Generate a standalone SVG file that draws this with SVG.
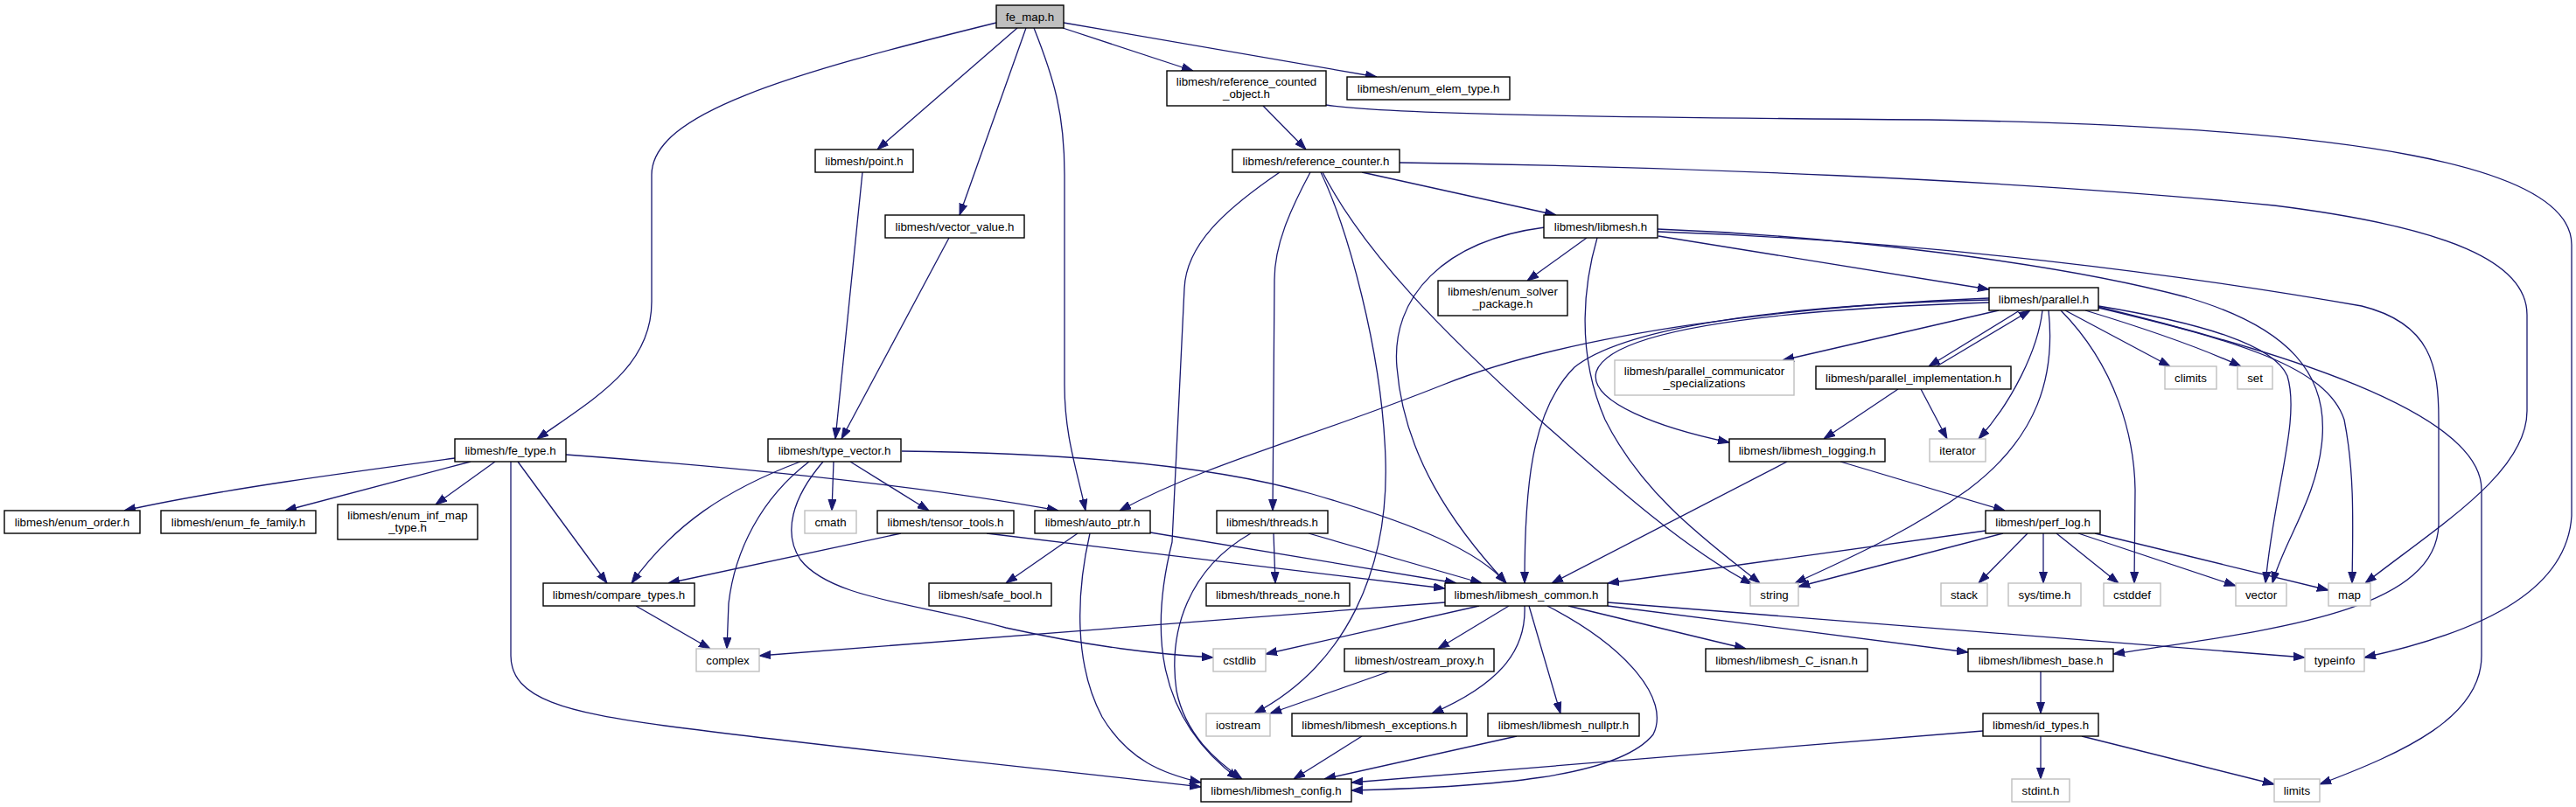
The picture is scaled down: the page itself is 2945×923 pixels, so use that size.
<svg xmlns="http://www.w3.org/2000/svg" width="2945" height="923" viewBox="0 0 2945 923">
<defs>
<marker id="a" markerUnits="userSpaceOnUse" markerWidth="13" markerHeight="10" viewBox="0 0 13 10" refX="13" refY="5" orient="auto">
<path d="M0,0.5 L13,5 L0,9.5 z" fill="#191970" stroke="#191970" stroke-width="1"/>
</marker>
</defs>
<style>
.e path{fill:none;stroke:#191970;stroke-width:1.3;marker-end:url(#a)}
.n rect{fill:#fff;stroke:#000;stroke-width:1.4}
.x rect{fill:#fff;stroke:#bfbfbf;stroke-width:1.4}
.r rect{fill:#bfbfbf;stroke:#000;stroke-width:1.4}
text{font-family:"Liberation Sans",Arial,Helvetica,sans-serif;font-size:13.3px;text-anchor:middle;fill:#000}
</style>
<rect width="2945" height="923" fill="#fff"/>
<g id="edges" class="e">
<path d="M1139,26 C900,85 745,130 745,200 L745,345 C745,420 680,455 614,502"/>
<path d="M1163,32 L1003,171"/>
<path d="M1173,32 L1097,246"/>
<path d="M1182,32 C1205,90 1217,130 1217,200 L1217,440 C1217,500 1232,540 1241,584"/>
<path d="M1215,32 L1364,81"/>
<path d="M1216,26 L1574,88"/>
<path d="M1444,121 L1493,171"/>
<path d="M1516,120 C1580,130 1800,134 2205,137 C2700,145 2940,190 2940,280 L2940,590 C2935,670 2850,720 2703,752"/>
<path d="M1557,197 L1779,246"/>
<path d="M1600,186 C1900,190 2300,205 2600,235 C2800,260 2889,300 2889,360 L2889,470 C2889,540 2790,600 2704,667"/>
<path d="M1498,197 C1475,240 1457,280 1457,320 L1455,584"/>
<path d="M1463,197 C1400,240 1356,280 1354,330 L1340,620 C1315,720 1320,820 1416,891"/>
<path d="M1510,197 C1540,260 1580,400 1584,525 C1588,650 1540,760 1434,816"/>
<path d="M1512,197 C1560,290 1650,380 1760,480 C1850,560 1930,630 2003,668"/>
<path d="M1814,272 L1746,321"/>
<path d="M1826,272 C1812,320 1800,400 1835,480 C1880,570 1960,625 2012,667"/>
<path d="M1766,260 C1650,275 1590,340 1597,420 C1605,520 1660,600 1722,667"/>
<path d="M1896,270 L2274,331"/>
<path d="M1895,262 C2100,270 2350,300 2500,340 C2620,375 2660,430 2655,500 C2650,570 2610,620 2598,667"/>
<path d="M1895,265 C2200,275 2500,315 2700,350 C2780,370 2788,420 2788,480 L2788,600 C2785,700 2600,720 2416,748"/>
<path d="M2285,355 L2038,412"/>
<path d="M2309,355 L2205,419"/>
<path d="M2214,419 L2321,355"/>
<path d="M2335,355 C2330,400 2300,460 2262,502"/>
<path d="M2196,445 L2226,502"/>
<path d="M2170,445 L2085,502"/>
<path d="M2342,355 C2350,430 2330,500 2250,560 C2180,610 2110,640 2052,667"/>
<path d="M2356,355 C2420,420 2440,500 2441,560 L2440,667"/>
<path d="M2361,355 L2481,419"/>
<path d="M2384,355 C2450,375 2510,395 2562,419"/>
<path d="M2399,350 C2520,370 2600,395 2615,430 C2630,480 2600,560 2590,667"/>
<path d="M2399,352 C2560,390 2660,420 2680,480 C2692,540 2690,600 2689,667"/>
<path d="M2399,351 C2600,400 2837,470 2837,560 L2837,750 C2837,820 2750,860 2652,897"/>
<path d="M2274,346 C2000,355 1840,380 1825,425 C1815,460 1900,490 1977,506"/>
<path d="M2274,343 C2000,350 1850,380 1800,420 C1750,470 1743,560 1743,667"/>
<path d="M2274,341 C2050,350 1800,380 1650,440 C1500,500 1380,530 1280,584"/>
<path d="M2043,528 L1774,667"/>
<path d="M2104,528 L2292,584"/>
<path d="M2270,607 L1838,667"/>
<path d="M2290,610 L2056,671"/>
<path d="M2318,610 L2262,667"/>
<path d="M2336,610 L2336,667"/>
<path d="M2351,610 L2422,667"/>
<path d="M2376,610 L2556,670"/>
<path d="M2395,610 L2662,675"/>
<path d="M915,528 C830,560 770,600 722,667"/>
<path d="M925,528 C870,570 840,630 833,690 L831,742"/>
<path d="M941,528 C905,570 895,610 915,640 C950,685 1050,690 1150,718 C1250,740 1320,748 1387,752"/>
<path d="M953,528 L951,584"/>
<path d="M972,528 L1062,584"/>
<path d="M1031,516 C1200,518 1380,530 1500,565 C1620,600 1690,630 1722,667"/>
<path d="M1030,610 L764,667"/>
<path d="M1128,610 L1652,673"/>
<path d="M1315,609 L1665,667"/>
<path d="M1232,610 L1150,667"/>
<path d="M1246,610 C1230,680 1228,760 1260,820 C1290,870 1330,885 1373,895"/>
<path d="M1456,610 L1458,667"/>
<path d="M1430,610 C1360,650 1335,720 1345,790 C1355,840 1390,870 1420,891"/>
<path d="M1496,610 L1694,667"/>
<path d="M520,524 C400,540 250,560 142,584"/>
<path d="M538,528 L326,584"/>
<path d="M566,528 L498,577"/>
<path d="M592,528 L694,667"/>
<path d="M647,520 C850,535 1050,555 1210,584"/>
<path d="M584,528 L584,750 C584,800 650,815 760,830 C950,855 1200,880 1373,900"/>
<path d="M727,693 L812,742"/>
<path d="M1652,689 L868,750"/>
<path d="M1691,693 L1447,748"/>
<path d="M1725,693 L1644,742"/>
<path d="M1743,693 C1745,740 1720,780 1637,816"/>
<path d="M1748,693 L1784,816"/>
<path d="M1769,693 C1860,740 1910,800 1890,840 C1850,890 1700,900 1545,904"/>
<path d="M1793,693 L1996,742"/>
<path d="M1838,689 L2635,752"/>
<path d="M1838,693 L2250,746"/>
<path d="M1588,768 L1452,816"/>
<path d="M1557,842 L1479,891"/>
<path d="M1734,842 L1514,891"/>
<path d="M2333,768 L2333,816"/>
<path d="M2333,842 L2333,891"/>
<path d="M2380,842 L2600,897"/>
<path d="M2267,836 L1545,895"/>
<path d="M986,197 L955,502"/>
<path d="M1085,272 L962,502"/>
</g>
<g id="n0" class="r"><rect x="1139" y="6" width="77" height="26"/><text x="1177.5" y="23.5">fe_map.h</text></g>
<g id="n1" class="n"><rect x="1334" y="81" width="182" height="40"/><text x="1425" y="97.5">libmesh/reference_counted</text><text x="1425" y="112">_object.h</text></g>
<g id="n2" class="n"><rect x="1540" y="88" width="186" height="26"/><text x="1633" y="105.5">libmesh/enum_elem_type.h</text></g>
<g id="n3" class="n"><rect x="932" y="171" width="112" height="26"/><text x="988" y="188.5">libmesh/point.h</text></g>
<g id="n4" class="n"><rect x="1409" y="171" width="191" height="26"/><text x="1504.5" y="188.5">libmesh/reference_counter.h</text></g>
<g id="n5" class="n"><rect x="1012" y="246" width="159" height="26"/><text x="1091.5" y="263.5">libmesh/vector_value.h</text></g>
<g id="n6" class="n"><rect x="1765" y="246" width="130" height="26"/><text x="1830" y="263.5">libmesh/libmesh.h</text></g>
<g id="n7" class="n"><rect x="1644" y="321" width="148" height="40"/><text x="1718" y="337.5">libmesh/enum_solver</text><text x="1718" y="352">_package.h</text></g>
<g id="n8" class="n"><rect x="2274" y="329" width="125" height="26"/><text x="2336.5" y="346.5">libmesh/parallel.h</text></g>
<g id="n9" class="x"><rect x="1846" y="412" width="205" height="40"/><text x="1948.5" y="428.5">libmesh/parallel_communicator</text><text x="1948.5" y="443">_specializations</text></g>
<g id="n10" class="n"><rect x="2076" y="419" width="223" height="26"/><text x="2187.5" y="436.5">libmesh/parallel_implementation.h</text></g>
<g id="n11" class="x"><rect x="2475" y="419" width="59" height="26"/><text x="2504.5" y="436.5">climits</text></g>
<g id="n12" class="x"><rect x="2558" y="419" width="40" height="26"/><text x="2578" y="436.5">set</text></g>
<g id="n13" class="n"><rect x="520" y="502" width="127" height="26"/><text x="583.5" y="519.5">libmesh/fe_type.h</text></g>
<g id="n14" class="n"><rect x="878" y="502" width="152" height="26"/><text x="954" y="519.5">libmesh/type_vector.h</text></g>
<g id="n15" class="n"><rect x="1977" y="502" width="178" height="26"/><text x="2066" y="519.5">libmesh/libmesh_logging.h</text></g>
<g id="n16" class="x"><rect x="2206" y="502" width="64" height="26"/><text x="2238" y="519.5">iterator</text></g>
<g id="n17" class="n"><rect x="5" y="584" width="155" height="26"/><text x="82.5" y="601.5">libmesh/enum_order.h</text></g>
<g id="n18" class="n"><rect x="184" y="584" width="177" height="26"/><text x="272.5" y="601.5">libmesh/enum_fe_family.h</text></g>
<g id="n19" class="n"><rect x="386" y="577" width="160" height="40"/><text x="466" y="593.5">libmesh/enum_inf_map</text><text x="466" y="608">_type.h</text></g>
<g id="n20" class="x"><rect x="920" y="584" width="59" height="26"/><text x="949.5" y="601.5">cmath</text></g>
<g id="n21" class="n"><rect x="1003" y="584" width="156" height="26"/><text x="1081" y="601.5">libmesh/tensor_tools.h</text></g>
<g id="n22" class="n"><rect x="1183" y="584" width="132" height="26"/><text x="1249" y="601.5">libmesh/auto_ptr.h</text></g>
<g id="n23" class="n"><rect x="1391" y="584" width="127" height="26"/><text x="1454.5" y="601.5">libmesh/threads.h</text></g>
<g id="n24" class="n"><rect x="2270" y="584" width="131" height="26"/><text x="2335.5" y="601.5">libmesh/perf_log.h</text></g>
<g id="n25" class="n"><rect x="621" y="667" width="173" height="26"/><text x="707.5" y="684.5">libmesh/compare_types.h</text></g>
<g id="n26" class="n"><rect x="1062" y="667" width="140" height="26"/><text x="1132" y="684.5">libmesh/safe_bool.h</text></g>
<g id="n27" class="n"><rect x="1379" y="667" width="164" height="26"/><text x="1461" y="684.5">libmesh/threads_none.h</text></g>
<g id="n28" class="n"><rect x="1652" y="667" width="186" height="26"/><text x="1745" y="684.5">libmesh/libmesh_common.h</text></g>
<g id="n29" class="x"><rect x="2001" y="667" width="55" height="26"/><text x="2028.5" y="684.5">string</text></g>
<g id="n30" class="x"><rect x="2219" y="667" width="53" height="26"/><text x="2245.5" y="684.5">stack</text></g>
<g id="n31" class="x"><rect x="2296" y="667" width="83" height="26"/><text x="2337.5" y="684.5">sys/time.h</text></g>
<g id="n32" class="x"><rect x="2405" y="667" width="65" height="26"/><text x="2437.5" y="684.5">cstddef</text></g>
<g id="n33" class="x"><rect x="2556" y="667" width="58" height="26"/><text x="2585" y="684.5">vector</text></g>
<g id="n34" class="x"><rect x="2662" y="667" width="48" height="26"/><text x="2686" y="684.5">map</text></g>
<g id="n35" class="x"><rect x="796" y="742" width="72" height="26"/><text x="832" y="759.5">complex</text></g>
<g id="n36" class="x"><rect x="1387" y="742" width="60" height="26"/><text x="1417" y="759.5">cstdlib</text></g>
<g id="n37" class="n"><rect x="1537" y="742" width="171" height="26"/><text x="1622.5" y="759.5">libmesh/ostream_proxy.h</text></g>
<g id="n38" class="n"><rect x="1950" y="742" width="185" height="26"/><text x="2042.5" y="759.5">libmesh/libmesh_C_isnan.h</text></g>
<g id="n39" class="n"><rect x="2250" y="742" width="166" height="26"/><text x="2333" y="759.5">libmesh/libmesh_base.h</text></g>
<g id="n40" class="x"><rect x="2635" y="742" width="68" height="26"/><text x="2669" y="759.5">typeinfo</text></g>
<g id="n41" class="x"><rect x="1379" y="816" width="73" height="26"/><text x="1415.5" y="833.5">iostream</text></g>
<g id="n42" class="n"><rect x="1477" y="816" width="200" height="26"/><text x="1577" y="833.5">libmesh/libmesh_exceptions.h</text></g>
<g id="n43" class="n"><rect x="1701" y="816" width="173" height="26"/><text x="1787.5" y="833.5">libmesh/libmesh_nullptr.h</text></g>
<g id="n44" class="n"><rect x="2267" y="816" width="132" height="26"/><text x="2333" y="833.5">libmesh/id_types.h</text></g>
<g id="n45" class="n"><rect x="1373" y="891" width="172" height="26"/><text x="1459" y="908.5">libmesh/libmesh_config.h</text></g>
<g id="n46" class="x"><rect x="2300" y="891" width="66" height="26"/><text x="2333" y="908.5">stdint.h</text></g>
<g id="n47" class="x"><rect x="2600" y="891" width="52" height="26"/><text x="2626" y="908.5">limits</text></g>
</svg>
